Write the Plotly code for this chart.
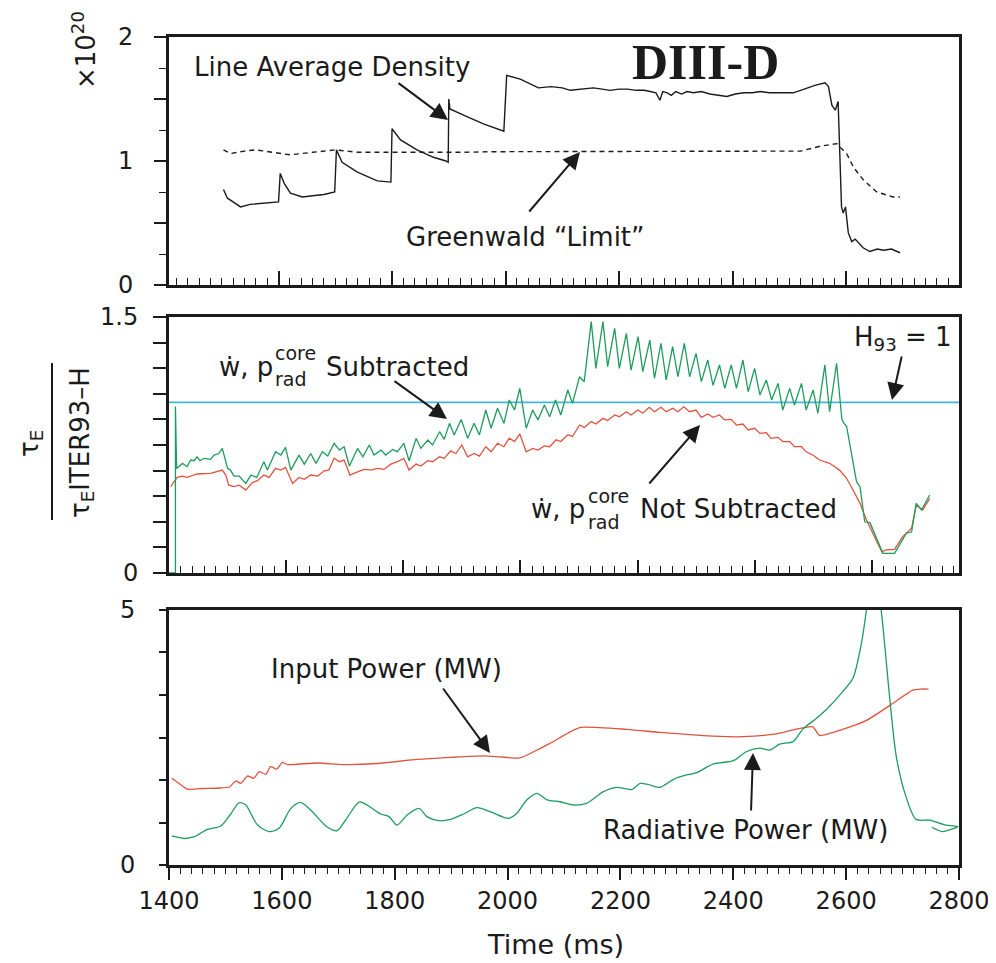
import plotly.graph_objects as go

W, H = 996, 963
PAGE_OFFSET = 8  # the page body margin shifts the figure by this many pixels


def px(x):
    return (x - PAGE_OFFSET) / W


def py(y):
    return 1 - (y - PAGE_OFFSET) / H


# ---------------- data ----------------
# Top panel: line average density and Greenwald limit (x10^20 m^-3)
density_t = [1503, 1510, 1520, 1533, 1550, 1575, 1600, 1603, 1610, 1621, 1642, 1660, 1680, 1699,
             1702, 1712, 1739, 1774, 1798, 1800, 1815, 1844, 1873, 1895, 1899, 1900, 1902, 1926,
             1961, 1997, 2002, 2026, 2058, 2080, 2100, 2114, 2130, 2155, 2170, 2184, 2200, 2215,
             2230, 2244, 2255, 2265, 2272, 2277, 2285, 2292, 2300, 2310, 2320, 2331, 2345, 2360,
             2375, 2390, 2405, 2420, 2435, 2449, 2465, 2480, 2495, 2507, 2520, 2531, 2545, 2563,
             2569, 2575, 2581, 2586, 2592, 2595, 2599, 2604, 2610, 2616, 2630, 2642, 2655, 2666,
             2680, 2695]
density_v = [0.77, 0.70, 0.67, 0.63, 0.65, 0.66, 0.67, 0.90, 0.82, 0.74, 0.71, 0.72, 0.73, 0.75,
             1.09, 0.99, 0.91, 0.84, 0.83, 1.26, 1.17, 1.09, 1.03, 1.00, 0.99, 1.50, 1.42, 1.37,
             1.30, 1.24, 1.69, 1.66, 1.59, 1.60, 1.59, 1.57, 1.58, 1.59, 1.58, 1.57, 1.58, 1.58,
             1.57, 1.57, 1.56, 1.55, 1.49, 1.56, 1.55, 1.53, 1.56, 1.54, 1.56, 1.55, 1.56, 1.54,
             1.53, 1.52, 1.54, 1.55, 1.55, 1.56, 1.55, 1.55, 1.55, 1.55, 1.57, 1.59, 1.61, 1.63,
             1.60, 1.45, 1.41, 1.48, 0.63, 0.58, 0.63, 0.42, 0.35, 0.37, 0.30, 0.27, 0.29, 0.28,
             0.29, 0.26]
greenwald_t = [1503, 1515, 1540, 1560, 1590, 1620, 1660, 1700, 1740, 1780, 1820, 1870, 1920, 1980,
               2050, 2150, 2300, 2450, 2520, 2555, 2584, 2592, 2601, 2613, 2630, 2654, 2683, 2695]
greenwald_v = [1.09, 1.06, 1.08, 1.09, 1.07, 1.05, 1.07, 1.09, 1.07, 1.07, 1.065, 1.07, 1.07, 1.075,
               1.075, 1.075, 1.075, 1.075, 1.08, 1.12, 1.14, 1.10, 1.06, 0.95, 0.85, 0.75, 0.71, 0.71]

# Middle panel: tau_E / tau_E(ITER93-H)
sub_t = [1400, 1411, 1411, 1413, 1423, 1431, 1437, 1443, 1448, 1453, 1460, 1471, 1477, 1485, 1491,
         1494, 1500, 1505, 1511, 1520, 1531, 1540, 1550, 1562, 1568, 1582, 1591, 1599, 1608, 1622,
         1631, 1642, 1651, 1662, 1671, 1682, 1691, 1699, 1708, 1722, 1731, 1742, 1750, 1762, 1770,
         1782, 1790, 1801, 1810, 1822, 1830, 1842, 1850, 1862, 1870, 1879, 1887, 1899, 1910, 1921,
         1930, 1941, 1950, 1961, 1972, 1981, 1990, 1999, 2010, 2021, 2030, 2041, 2050, 2060, 2069,
         2081, 2089, 2101, 2109, 2121, 2129, 2141, 2149, 2161, 2169, 2181, 2189, 2201, 2209, 2221,
         2229, 2240, 2249, 2260, 2269, 2280, 2289, 2300, 2309, 2320, 2329, 2340, 2349, 2360, 2369,
         2380, 2389, 2400, 2409, 2420, 2429, 2440, 2448, 2460, 2468, 2480, 2488, 2500, 2508, 2520,
         2528, 2540, 2549, 2552, 2557, 2574, 2580, 2588, 2597, 2619, 2639, 2659, 2668, 2676, 2685,
         2699]
sub_v = [0.0, 0.0, 0.975, 0.613, 0.642, 0.623, 0.662, 0.658, 0.681, 0.658, 0.672, 0.666, 0.691, 0.700,
         0.730, 0.691, 0.613, 0.603, 0.568, 0.568, 0.525, 0.574, 0.560, 0.652, 0.603, 0.711, 0.691,
         0.736, 0.603, 0.691, 0.638, 0.700, 0.642, 0.711, 0.685, 0.760, 0.720, 0.740, 0.627, 0.730,
         0.681, 0.750, 0.691, 0.720, 0.691, 0.724, 0.711, 0.760, 0.658, 0.789, 0.730, 0.779, 0.750,
         0.828, 0.783, 0.877, 0.809, 0.900, 0.789, 0.877, 0.809, 0.955, 0.848, 0.965, 0.877, 1.014,
         0.955, 1.082, 0.848, 0.955, 0.897, 0.984, 0.916, 1.014, 0.926, 1.072, 0.994, 1.150, 1.121,
         1.473, 1.199, 1.473, 1.209, 1.434, 1.199, 1.404, 1.189, 1.385, 1.180, 1.365, 1.141, 1.346,
         1.131, 1.326, 1.150, 1.346, 1.150, 1.287, 1.121, 1.248, 1.100, 1.219, 1.082, 1.219, 1.082,
         1.248, 1.062, 1.199, 1.043, 1.131, 1.014, 1.111, 0.955, 1.082, 0.984, 1.111, 0.955, 1.072,
         0.936, 1.219, 0.945, 1.229, 0.900, 0.880, 0.860, 0.535, 0.506, 0.300, 0.295, 0.115, 0.115,
         0.233, 0.240, 0.408, 0.370, 0.457]
nosub_t = [1403, 1414, 1423, 1431, 1448, 1471, 1491, 1497, 1502, 1511, 1520, 1531, 1542, 1551, 1562,
           1571, 1582, 1591, 1599, 1611, 1622, 1631, 1642, 1654, 1665, 1673, 1682, 1691, 1699, 1709,
           1722, 1733, 1745, 1756, 1767, 1779, 1790, 1801, 1810, 1822, 1830, 1842, 1850, 1862, 1870,
           1881, 1890, 1900, 1910, 1921, 1930, 1941, 1950, 1961, 1972, 1981, 1990, 1999, 2010, 2021,
           2030, 2041, 2050, 2061, 2069, 2081, 2089, 2101, 2109, 2121, 2129, 2141, 2149, 2161, 2169,
           2181, 2189, 2201, 2209, 2220, 2229, 2240, 2249, 2260, 2269, 2279, 2289, 2300, 2309, 2320,
           2329, 2340, 2349, 2360, 2369, 2380, 2389, 2400, 2409, 2420, 2428, 2440, 2448, 2460, 2468,
           2480, 2488, 2500, 2511, 2528, 2545, 2557, 2568, 2580, 2591, 2602, 2617, 2625, 2639, 2653,
           2668, 2676, 2687, 2699]
nosub_v = [0.506, 0.560, 0.568, 0.560, 0.580, 0.584, 0.603, 0.574, 0.515, 0.506, 0.515, 0.486, 0.529,
           0.541, 0.574, 0.560, 0.613, 0.603, 0.619, 0.525, 0.560, 0.549, 0.574, 0.568, 0.599, 0.603,
           0.672, 0.652, 0.662, 0.574, 0.593, 0.607, 0.603, 0.613, 0.607, 0.638, 0.652, 0.672, 0.603,
           0.638, 0.627, 0.658, 0.652, 0.681, 0.672, 0.716, 0.700, 0.750, 0.681, 0.700, 0.685, 0.740,
           0.710, 0.760, 0.740, 0.790, 0.770, 0.815, 0.710, 0.730, 0.720, 0.745, 0.740, 0.780, 0.770,
           0.810, 0.800, 0.867, 0.853, 0.887, 0.873, 0.906, 0.893, 0.926, 0.916, 0.945, 0.926, 0.955,
           0.936, 0.971, 0.945, 0.971, 0.945, 0.965, 0.945, 0.974, 0.945, 0.955, 0.912, 0.932, 0.912,
           0.926, 0.897, 0.900, 0.867, 0.873, 0.838, 0.848, 0.818, 0.822, 0.789, 0.795, 0.770, 0.770,
           0.740, 0.740, 0.710, 0.690, 0.662, 0.643, 0.603, 0.555, 0.486, 0.408, 0.310, 0.233, 0.125,
           0.135, 0.139, 0.213, 0.262, 0.398, 0.369, 0.437]
H93_LEVEL = 1.0

# Bottom panel: powers (MW)
pin_t = [1405, 1420, 1433, 1457, 1490, 1507, 1519, 1527, 1539, 1550, 1560, 1572, 1580, 1591, 1601,
         1610, 1663, 1710, 1769, 1840, 1899, 1958, 1987, 2022, 2046, 2075, 2111, 2129, 2211, 2270,
         2329, 2388, 2417, 2476, 2506, 2541, 2553, 2594, 2635, 2683, 2718, 2733, 2746]
pin_v = [1.70, 1.58, 1.484, 1.50, 1.51, 1.53, 1.65, 1.60, 1.745, 1.70, 1.83, 1.78, 1.93, 1.88, 2.01,
         1.97, 2.00, 1.97, 1.99, 2.07, 2.11, 2.14, 2.12, 2.10, 2.22, 2.385, 2.61, 2.70, 2.66, 2.60,
         2.55, 2.516, 2.516, 2.57, 2.65, 2.71, 2.54, 2.66, 2.83, 3.17, 3.43, 3.45, 3.45]
prad_t = [1405, 1427, 1445, 1468, 1492, 1510, 1524, 1536, 1557, 1578, 1595, 1616, 1633, 1651, 1681,
          1698, 1713, 1737, 1751, 1775, 1790, 1804, 1822, 1843, 1857, 1878, 1899, 1922, 1946, 1969,
          2002, 2016, 2034, 2052, 2070, 2093, 2117, 2140, 2170, 2193, 2220, 2235, 2249, 2270, 2294,
          2317, 2335, 2364, 2400, 2423, 2447, 2465, 2482, 2506, 2523, 2547, 2565, 2594, 2612, 2627,
          2636, 2648, 2662, 2677, 2689, 2706, 2724, 2748, 2777, 2798, 2786, 2771, 2752]
prad_v = [0.569, 0.52, 0.555, 0.70, 0.765, 1.01, 1.22, 1.176, 0.784, 0.654, 0.72, 1.11, 1.228, 1.078,
          0.739, 0.673, 0.882, 1.235, 1.176, 1.00, 0.948, 0.784, 0.98, 1.11, 0.948, 0.869, 0.895, 1.00,
          1.124, 1.046, 0.915, 1.01, 1.275, 1.405, 1.275, 1.24, 1.176, 1.21, 1.438, 1.523, 1.48, 1.60,
          1.58, 1.523, 1.68, 1.765, 1.81, 1.98, 2.045, 2.22, 2.29, 2.255, 2.37, 2.42, 2.66, 2.875,
          3.05, 3.40, 3.66, 4.34, 5.0, 6.0, 5.0, 3.30, 2.12, 1.34, 0.894, 0.88, 0.78, 0.75, 0.70,
          0.654, 0.74]

# axis tick values / labels
dens_ticks = [0, 0.5, 1, 1.5, 2]
dens_ticktext = ["0", "", "1", "", "2"]
tau_ticks = [0, 0.15, 0.3, 0.45, 0.6, 0.75, 0.9, 1.05, 1.2, 1.35, 1.5]
tau_ticktext = ["0", "", "", "", "", "", "", "", "", "", "1.5"]
pow_ticks = [0, 0.833, 1.667, 2.5, 3.333, 4.167, 5]
pow_ticktext = ["0", "", "", "", "", "", "5"]
time_ticks = [1400, 1600, 1800, 2000, 2200, 2400, 2600, 2800]

# ---------------- styling ----------------
INK = "#1b1b1b"
GREEN = "#1e9c5c"
RED = "#e0533f"
BLUE = "#45b6d6"
SANS = "DejaVu Sans"

fig = go.Figure()
fig.add_trace(go.Scatter(x=density_t, y=density_v, mode="lines",
                         line=dict(color=INK, width=1.4), xaxis="x", yaxis="y"))
fig.add_trace(go.Scatter(x=greenwald_t, y=greenwald_v, mode="lines",
                         line=dict(color=INK, width=1.4, dash="5px,4px"), xaxis="x", yaxis="y"))
fig.add_trace(go.Scatter(x=nosub_t, y=nosub_v, mode="lines",
                         line=dict(color=RED, width=1.3), xaxis="x2", yaxis="y2"))
fig.add_trace(go.Scatter(x=sub_t, y=sub_v, mode="lines",
                         line=dict(color=GREEN, width=1.3), xaxis="x2", yaxis="y2"))
fig.add_trace(go.Scatter(x=pin_t, y=pin_v, mode="lines",
                         line=dict(color=RED, width=1.3, shape="spline", smoothing=0.6),
                         xaxis="x3", yaxis="y3"))
fig.add_trace(go.Scatter(x=prad_t, y=prad_v, mode="lines",
                         line=dict(color=GREEN, width=1.3, shape="spline", smoothing=0.8),
                         xaxis="x3", yaxis="y3"))

fig.add_shape(type="line", xref="x2 domain", x0=0, x1=1, yref="y2", y0=H93_LEVEL, y1=H93_LEVEL,
              line=dict(color=BLUE, width=1.6), layer="below")

XD = [px(169), px(959)]
frame = dict(showline=True, linecolor=INK, linewidth=3, mirror=True, showgrid=False,
             zeroline=False, tickcolor=INK, tickwidth=1.5, automargin=False)
tickfont = dict(family=SANS, size=24, color=INK)


def xax(anchor, rng, ticks, ticklen, minorlen, labels=False):
    d = dict(frame)
    d.update(domain=XD, anchor=anchor, range=rng, ticks=ticks, tickvals=time_ticks,
             ticklen=ticklen, showticklabels=labels, tickfont=tickfont,
             minor=dict(ticks=ticks, tick0=1400, dtick=20, ticklen=minorlen, tickwidth=1.2,
                        tickcolor=INK))
    return d


def yax(anchor, dom, rng, vals, text, ticklen, standoff, minor=None):
    d = dict(frame)
    d.update(domain=dom, anchor=anchor, range=rng, ticks="outside", tickvals=vals, ticktext=text,
             ticklen=ticklen, tickfont=tickfont, ticklabelstandoff=standoff)
    if minor is not None:
        d["minor"] = minor
    return d


fig.update_layout(
    template="none",
    width=W, height=H, margin=dict(l=0, r=0, t=0, b=0, pad=0, autoexpand=False),
    paper_bgcolor="white", plot_bgcolor="white", showlegend=False,
    xaxis=xax("y", [1407, 2799], "inside", 14, 7),
    yaxis=yax("x", [py(285), py(37)], [0, 2], dens_ticks, dens_ticktext, 12, 16,
              minor=dict(ticks="outside", dtick=0.25, tick0=0, ticklen=7, tickwidth=1.2,
                         tickcolor=INK)),
    xaxis2=xax("y2", [1400, 2749], "inside", 13, 7),
    yaxis2=yax("x2", [py(573), py(317)], [0, 1.5], tau_ticks, tau_ticktext, 13, 10),
    xaxis3=xax("y3", [1400, 2800], "outside", 12, 6, labels=True),
    yaxis3=yax("x3", [py(865), py(610)], [0, 5], pow_ticks, pow_ticktext, 7, 19),
)

# fraction bar of the middle y title
fig.add_shape(type="line", xref="paper", yref="paper", x0=px(52), x1=px(52), y0=py(363), y1=py(520),
              line=dict(color=INK, width=2))


def text(x, y, s, size=26, xanchor="left", angle=0, family=SANS, yanchor="middle"):
    fig.add_annotation(x=px(x), y=py(y), xref="paper", yref="paper", text=s, showarrow=False,
                       xanchor=xanchor, yanchor=yanchor, textangle=angle,
                       font=dict(family=family, size=size, color=INK))


def arrow(tail, head):
    fig.add_annotation(x=px(head[0]), y=py(head[1]), xref="paper", yref="paper", text="",
                       showarrow=True, ax=tail[0] - head[0], ay=tail[1] - head[1],
                       arrowhead=2, arrowsize=1.7, arrowwidth=2, arrowcolor=INK, standoff=0)


# top panel texts
text(84, 50, "×10<sup>20</sup>", size=26, xanchor="center", angle=-90)
text(192, 67, "Line Average Density")
text(705, 62, "<b>DIII-D</b>", size=50, xanchor="center", family="Liberation Serif")
text(404, 237, "Greenwald “Limit”")
arrow((397, 82), (448, 120))
arrow((528, 213), (580, 152))

# middle panel texts
text(30, 444, "τ<sub>E</sub>", size=26, xanchor="center", angle=-90)
text(82, 443, "τ<sub>E</sub>ITER93–H", size=26, xanchor="center", angle=-90)
text(217, 367, "ẇ, p")
text(273, 366, "core", size=19, yanchor="bottom")
text(273, 366, "rad", size=19, yanchor="top")
text(324, 367, "Subtracted")
text(852, 338, "H<sub>93</sub> = 1")
arrow((393, 380), (447, 419))
arrow((902, 355), (892, 400))
text(529, 509, "ẇ, p")
text(586, 509, "core", size=19, yanchor="bottom")
text(586, 509, "rad", size=19, yanchor="top")
text(638, 509, "Not Subtracted")
arrow((648, 485), (700, 425))

# bottom panel texts
text(269, 669, "Input Power (MW)")
text(601, 830, "Radiative Power (MW)")
arrow((442, 687), (490, 753))
arrow((751, 812), (753, 753))
text(555, 944, "Time (ms)", size=27, xanchor="center")

fig.write_html("out.html")
